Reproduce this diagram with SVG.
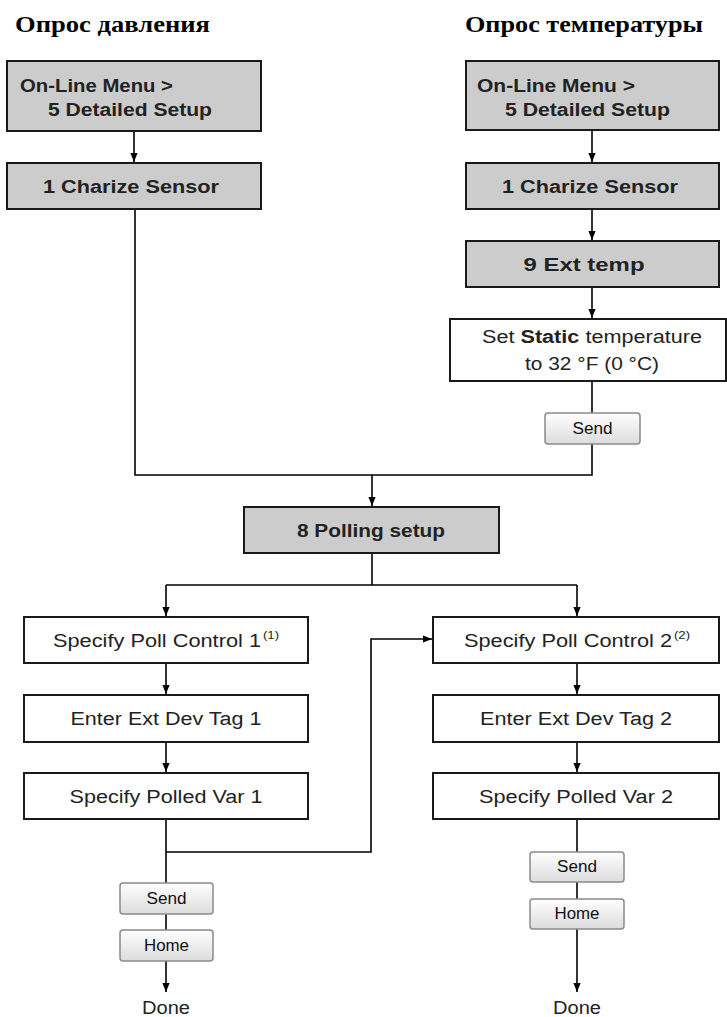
<svg xmlns="http://www.w3.org/2000/svg" width="727" height="1017" viewBox="0 0 727 1017">
<style>
.title{font-family:"Liberation Serif","Times New Roman",serif;font-weight:bold;font-size:24px;fill:#000}
.box{stroke:#1a1a1a;stroke-width:2}
.gray{fill:#cccccc}
.white{fill:#ffffff}
.t{font-family:"Liberation Sans",Arial,sans-serif;font-size:18px;fill:#222}
.tb{font-family:"Liberation Sans",Arial,sans-serif;font-size:18px;font-weight:bold;fill:#222}
.sup{font-family:"Liberation Sans",Arial,sans-serif;font-size:10px;fill:#222}
.btn{fill:url(#btng);stroke:#8a8a8a;stroke-width:1.5}
.bt{font-family:"Liberation Sans",Arial,sans-serif;font-size:16px;fill:#111}
.c{fill:none;stroke:#000;stroke-width:1.6}
.ca{fill:none;stroke:#000;stroke-width:1.6;marker-end:url(#ah)}
</style>
<defs>
<linearGradient id="btng" x1="0" y1="0" x2="0" y2="1">
<stop offset="0" stop-color="#ffffff"/>
<stop offset="1" stop-color="#dcdcdc"/>
</linearGradient>
<marker id="ah" viewBox="0 0 10 8" markerWidth="9" markerHeight="8" refX="10" refY="4" orient="auto" markerUnits="userSpaceOnUse">
<path d="M0,0 L10,4 L0,8 z" fill="#000"/>
</marker>
</defs>
<rect width="727" height="1017" fill="#ffffff"/>

<g id="titles">
<text class="title" x="15" y="32" textLength="195" lengthAdjust="spacingAndGlyphs">Опрос давления</text>
<text class="title" x="465" y="32" textLength="238" lengthAdjust="spacingAndGlyphs">Опрос температуры</text>
</g>

<g id="connectors">
<path class="ca" d="M134,131 V162"/>
<path class="c" d="M135,209 V475 H592 V444"/>
<path class="c" d="M592,381 V413"/>
<path class="ca" d="M592,130 V162"/>
<path class="ca" d="M592,209 V240"/>
<path class="ca" d="M592,287 V318"/>
<path class="ca" d="M372,475 V506"/>
<path class="c" d="M372,553 V585"/>
<path class="ca" d="M166,585 V616"/>
<path class="c" d="M166,585 H577"/>
<path class="ca" d="M577,585 V616"/>
<path class="ca" d="M166,663 V694"/>
<path class="ca" d="M166,742 V772"/>
<path class="c" d="M166,819 V883"/>
<path class="ca" d="M166,852 H371 V639 H432"/>
<path class="c" d="M166,914 V930"/>
<path class="ca" d="M166,961 V992"/>
<path class="ca" d="M577,663 V694"/>
<path class="ca" d="M577,742 V772"/>
<path class="c" d="M577,819 V852"/>
<path class="c" d="M577,882 V899"/>
<path class="ca" d="M577,929 V992"/>
</g>

<g id="p-online">
<rect class="box gray" x="7" y="61" width="254" height="70"/>
<text class="tb" x="20" y="92" textLength="153" lengthAdjust="spacingAndGlyphs">On-Line Menu &gt;</text>
<text class="tb" x="48" y="116" textLength="164" lengthAdjust="spacingAndGlyphs">5 Detailed Setup</text>
</g>
<g id="p-charize">
<rect class="box gray" x="7" y="163" width="254" height="46"/>
<text class="tb" x="131" y="193" text-anchor="middle" textLength="176" lengthAdjust="spacingAndGlyphs">1 Charize Sensor</text>
</g>

<g id="t-online">
<rect class="box gray" x="466" y="61" width="253" height="69"/>
<text class="tb" x="477" y="92" textLength="158" lengthAdjust="spacingAndGlyphs">On-Line Menu &gt;</text>
<text class="tb" x="505" y="116" textLength="165" lengthAdjust="spacingAndGlyphs">5 Detailed Setup</text>
</g>
<g id="t-charize">
<rect class="box gray" x="466" y="163" width="253" height="46"/>
<text class="tb" x="590" y="193" text-anchor="middle" textLength="176" lengthAdjust="spacingAndGlyphs">1 Charize Sensor</text>
</g>
<g id="t-exttemp">
<rect class="box gray" x="466" y="241" width="253" height="46"/>
<text class="tb" x="584" y="271" text-anchor="middle" textLength="121" lengthAdjust="spacingAndGlyphs">9 Ext temp</text>
</g>
<g id="t-static">
<rect class="box white" x="450" y="319" width="276" height="62"/>
<text class="t" x="592" y="343" text-anchor="middle" textLength="220" lengthAdjust="spacingAndGlyphs">Set <tspan font-weight="bold">Static</tspan> temperature</text>
<text class="t" x="592" y="370" text-anchor="middle" textLength="134" lengthAdjust="spacingAndGlyphs">to 32 °F (0 °C)</text>
</g>
<g id="t-send">
<rect class="btn" x="545" y="413" width="95" height="31" rx="3"/>
<text class="bt" x="592.5" y="434" text-anchor="middle" textLength="40" lengthAdjust="spacingAndGlyphs">Send</text>
</g>

<g id="polling">
<rect class="box gray" x="244" y="507" width="255" height="46"/>
<text class="tb" x="371" y="537" text-anchor="middle" textLength="148" lengthAdjust="spacingAndGlyphs">8 Polling setup</text>
</g>

<g id="spc1">
<rect class="box white" x="24" y="617" width="284" height="46"/>
<text class="t" x="53" y="647" textLength="208" lengthAdjust="spacingAndGlyphs">Specify Poll Control 1</text>
<text class="sup" x="263" y="639" textLength="16" lengthAdjust="spacingAndGlyphs">(1)</text>
</g>
<g id="eedt1">
<rect class="box white" x="24" y="695" width="284" height="47"/>
<text class="t" x="166" y="725" text-anchor="middle" textLength="191" lengthAdjust="spacingAndGlyphs">Enter Ext Dev Tag 1</text>
</g>
<g id="spv1">
<rect class="box white" x="24" y="773" width="284" height="46"/>
<text class="t" x="166" y="803" text-anchor="middle" textLength="193" lengthAdjust="spacingAndGlyphs">Specify Polled Var 1</text>
</g>
<g id="send1">
<rect class="btn" x="120" y="883" width="93" height="31" rx="3"/>
<text class="bt" x="166.5" y="904" text-anchor="middle" textLength="40" lengthAdjust="spacingAndGlyphs">Send</text>
</g>
<g id="home1">
<rect class="btn" x="120" y="930" width="93" height="31" rx="3"/>
<text class="bt" x="166.5" y="951" text-anchor="middle" textLength="45" lengthAdjust="spacingAndGlyphs">Home</text>
</g>
<g id="done1">
<text class="t" x="166" y="1014" text-anchor="middle" textLength="48" lengthAdjust="spacingAndGlyphs">Done</text>
</g>

<g id="spc2">
<rect class="box white" x="433" y="617" width="286" height="46"/>
<text class="t" x="464" y="647" textLength="208" lengthAdjust="spacingAndGlyphs">Specify Poll Control 2</text>
<text class="sup" x="674" y="639" textLength="16" lengthAdjust="spacingAndGlyphs">(2)</text>
</g>
<g id="eedt2">
<rect class="box white" x="433" y="695" width="286" height="47"/>
<text class="t" x="576" y="725" text-anchor="middle" textLength="192" lengthAdjust="spacingAndGlyphs">Enter Ext Dev Tag 2</text>
</g>
<g id="spv2">
<rect class="box white" x="433" y="773" width="286" height="46"/>
<text class="t" x="576" y="803" text-anchor="middle" textLength="194" lengthAdjust="spacingAndGlyphs">Specify Polled Var 2</text>
</g>
<g id="send2">
<rect class="btn" x="530" y="852" width="94" height="30" rx="3"/>
<text class="bt" x="577" y="872" text-anchor="middle" textLength="40" lengthAdjust="spacingAndGlyphs">Send</text>
</g>
<g id="home2">
<rect class="btn" x="530" y="899" width="94" height="30" rx="3"/>
<text class="bt" x="577" y="919" text-anchor="middle" textLength="45" lengthAdjust="spacingAndGlyphs">Home</text>
</g>
<g id="done2">
<text class="t" x="577" y="1014" text-anchor="middle" textLength="48" lengthAdjust="spacingAndGlyphs">Done</text>
</g>
</svg>
